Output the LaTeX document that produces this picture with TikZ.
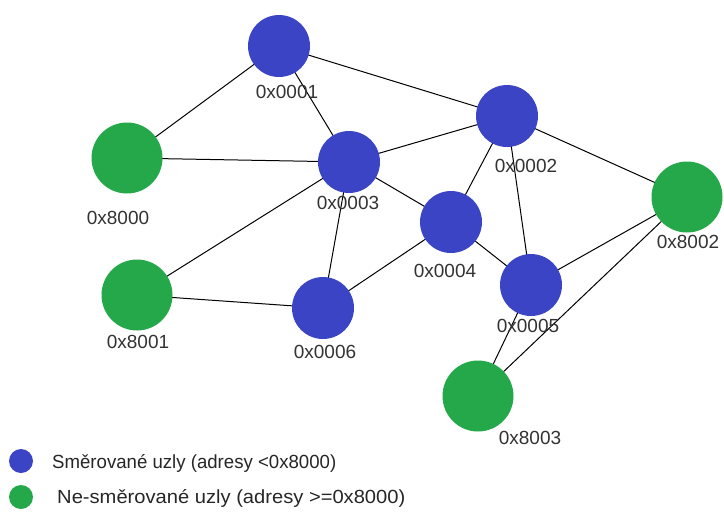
\documentclass[tikz,border=0pt]{standalone}
\usepackage{fontspec}
\setmainfont{Liberation Sans}
\usetikzlibrary{positioning}
\definecolor{routed}{RGB}{59,68,197}
\definecolor{unrouted}{RGB}{36,168,74}
\tikzset{
    router/.style={
        circle, fill=routed,
        minimum size=62pt, inner sep=0pt
    },
    enddev/.style={
        circle, fill=unrouted,
        minimum size=71pt, inner sep=0pt
    },
    addr/.style={
        font=\fontsize{19}{19}\selectfont,
        text=black!80, inner sep=0pt
    },
    link/.style={
        line width=1pt, black
    },
    legend/.style={
        font=\fontsize{19}{19}\selectfont,
        text=black!85, anchor=west, inner sep=0pt
    }
}

\begin{document}
\begin{tikzpicture}[x=1pt,y=-1pt]
    \useasboundingbox (0,0) rectangle (724,520);
    % links first, circles are drawn on top
    \coordinate (p1) at (279,46);
    \coordinate (p2) at (507,116);
    \coordinate (p3) at (349,162);
    \coordinate (p4) at (451,222);
    \coordinate (p5) at (531,285);
    \coordinate (p6) at (323,308);
    \coordinate (q0) at (127,158);
    \coordinate (q1) at (137,295);
    \coordinate (q2) at (687,197);
    \coordinate (q3) at (478,396);
    \foreach \a/\b in {p1/q0, p1/p3, p1/p2, q0/p3, p3/p2, p3/p4, p3/q1, p3/p6,
                       p2/p4, p2/p5, p2/q2, p4/p6, p4/p5, q1/p6, p5/q2, p5/q3, q3/q2}
        \draw [link] (\a) -- (\b);
    % nodes
    \node [router] (r1) at (p1) {};
    \node [router] (r2) at (p2) {};
    \node [router] (r3) at (p3) {};
    \node [router] (r4) at (p4) {};
    \node [router] (r5) at (p5) {};
    \node [router] (r6) at (p6) {};
    \node [enddev] (e0) at (q0) {};
    \node [enddev] (e1) at (q1) {};
    \node [enddev] (e2) at (q2) {};
    \node [enddev] (e3) at (q3) {};
    % addresses
    \node [addr] (l1) at (287,92) {0x0001};
    \node [addr] (l2) at (526,166) {0x0002};
    \node [addr] (l3) at (348,203) {0x0003};
    \node [addr] (l4) at (445,271) {0x0004};
    \node [addr] (l5) at (528,326) {0x0005};
    \node [addr] (l6) at (325,352) {0x0006};
    \node [addr] (m0) at (118,218) {0x8000};
    \node [addr] (m1) at (138,342) {0x8001};
    \node [addr] (m2) at (688,242) {0x8002};
    \node [addr] (m3) at (530,438) {0x8003};
    % legend
    \node [circle, fill=routed, minimum size=24pt, inner sep=0pt] (k1) at (21,461) {};
    \node [legend, xscale=0.98] (t1) at (52,463) {Směrované uzly (adresy <0x8000)};
    \node [circle, fill=unrouted, minimum size=24pt, inner sep=0pt] (k2) at (21,497) {};
    \node [legend, xscale=1.06] (t2) at (57,498) {Ne-směrované uzly (adresy >=0x8000)};
\end{tikzpicture}
\end{document}
